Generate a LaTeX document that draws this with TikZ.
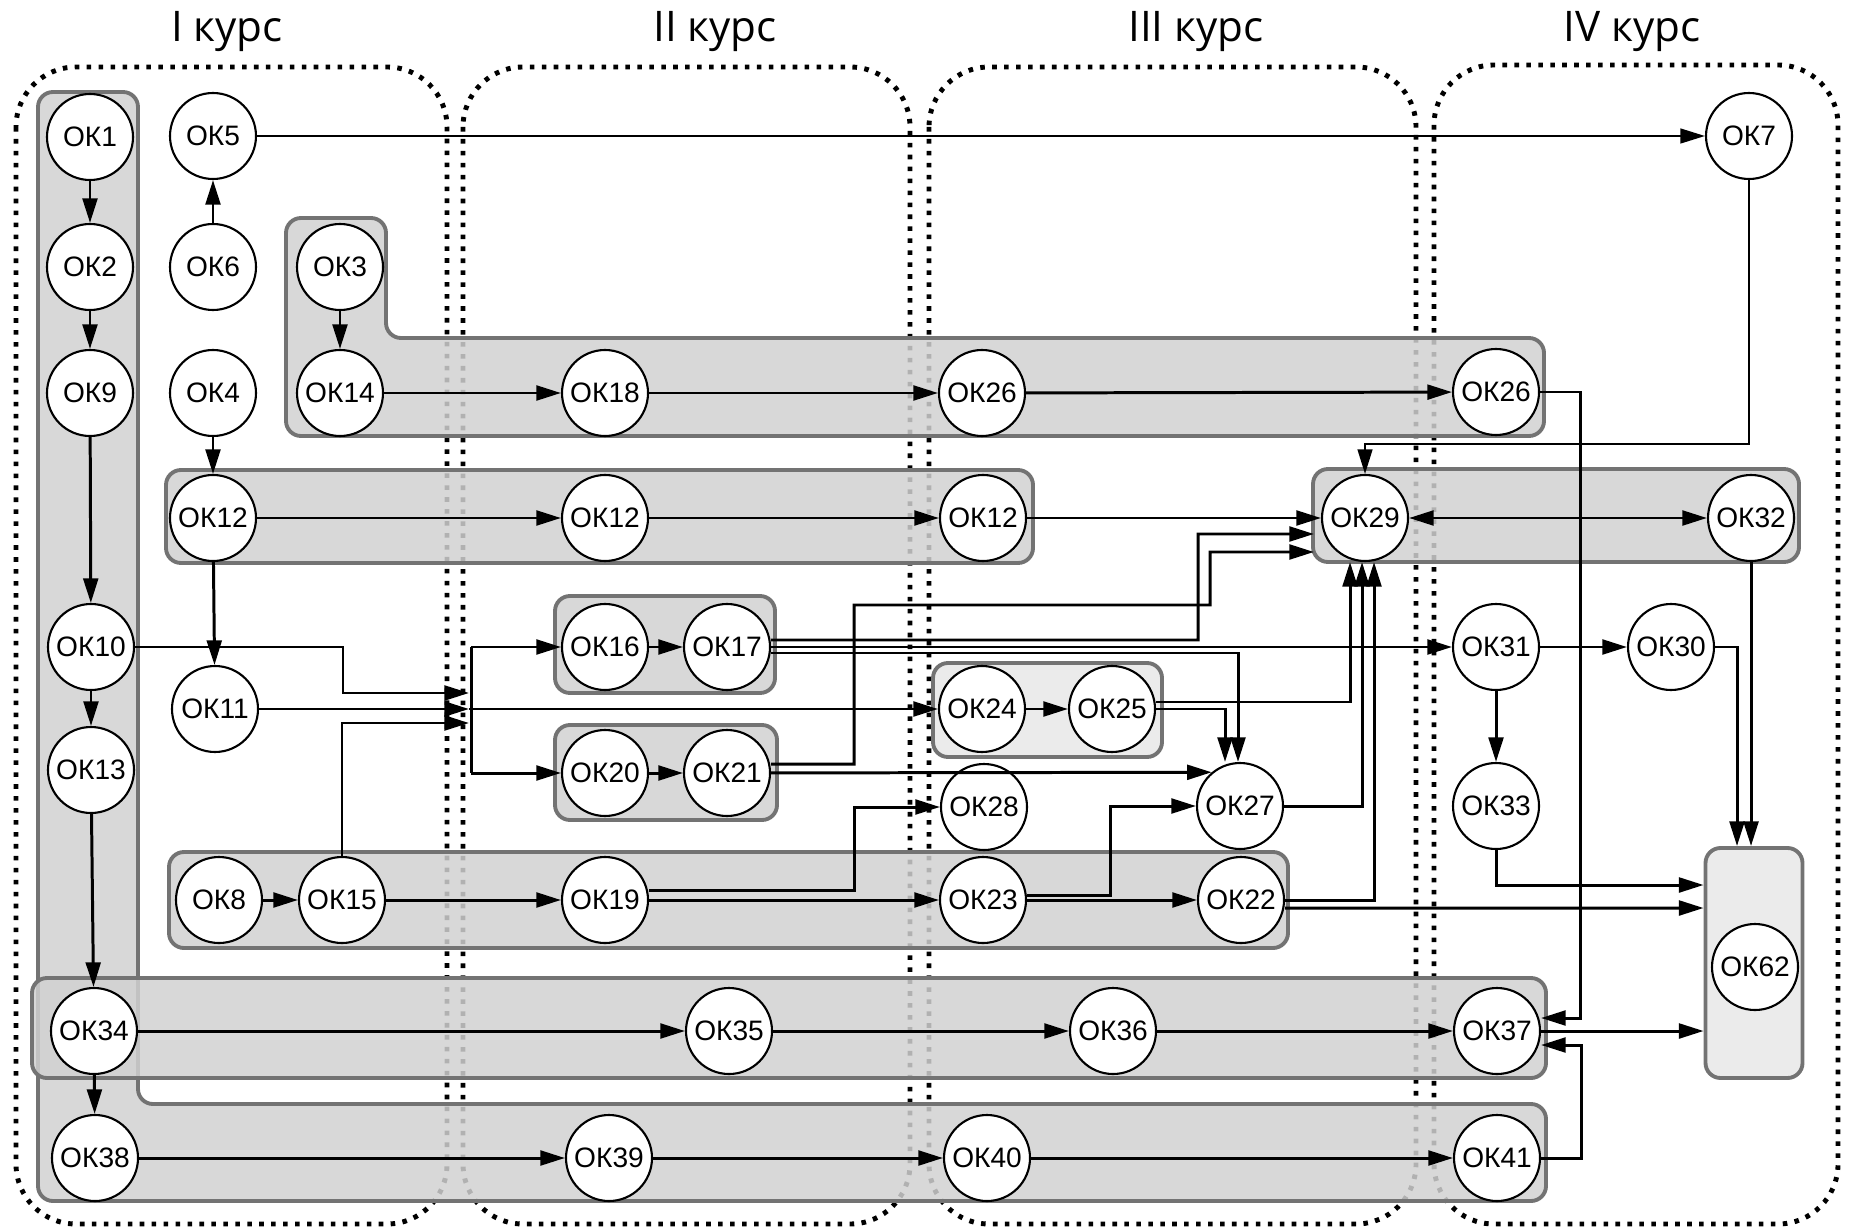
\documentclass[tikz,border=0pt]{standalone}
\usepackage{fontspec}
\setsansfont{Liberation Sans}
\newfontfamily\kursfont{Open Sans}
\usetikzlibrary{arrows.meta,calc}

\tikzset{
  ok/.style={circle,draw,line width=0.6pt,fill=white,minimum size=8.6mm,inner sep=0pt,
    font=\sffamily\fontsize{8}{9}\selectfont},
  link/.style={->,line width=0.85pt},
  fine/.style={->,line width=0.6pt},
  grp/.style={draw=black!55,line width=1.1pt,fill=black!18,fill opacity=0.85,rounded corners=1.5mm},
  grplight/.style={grp,fill=black!9},
  kurs/.style={line width=1.4pt,dash pattern=on 1.3pt off 2.1pt,rounded corners=6mm},
  kurstitle/.style={anchor=base,font=\kursfont\fontsize{12}{14}\selectfont}
}

\begin{document}
\begin{tikzpicture}[x=0.1mm,y=-0.1mm,>={Triangle[length=7pt,width=4.2pt]}]
\useasboundingbox (0,0) rectangle (1855,1229);

\draw[kurs] (16,67) rectangle (447,1224);
\draw[kurs] (463,67) rectangle (910,1224);
\draw[kurs] (929,67) rectangle (1416,1224);
\draw[kurs] (1434,65) rectangle (1838,1224);

\node[kurstitle] (k1) at (227,42) {I курс};
\node[kurstitle] (k2) at (715,42) {II курс};
\node[kurstitle] (k3) at (1196,42) {III курс};
\node[kurstitle] (k4) at (1632,42) {IV курс};

\draw[grp] (38,92) -- (138,92) -- (138,1104) -- (1546,1104) -- (1546,1201) -- (38,1201) -- cycle;
\draw[grp] (286,218) -- (386,218) -- (386,338) -- (1544,338) -- (1544,436) -- (286,436) -- cycle;
\draw[grp] (166,470) rectangle (1033,563);
\draw[grp] (1313,469) rectangle (1799,562);
\draw[grp] (555,596) rectangle (775,693);
\draw[grp] (555,725) rectangle (777,820);
\draw[grplight] (933,663) rectangle (1162,757);
\draw[grp] (169,852) rectangle (1288,948);
\draw[grp] (32,978) rectangle (1546,1078);
\node[grplight,minimum width=9.7mm,minimum height=23mm,inner sep=0pt] (box62) at (1754,963) {};

\node[ok] (ok1) at (90,137) {ОК1};
\node[ok] (ok2) at (90,267) {ОК2};
\node[ok] (ok9) at (90,393) {ОК9};
\node[ok] (ok10) at (91,647) {ОК10};
\node[ok] (ok13) at (91,770) {ОК13};
\node[ok] (ok34) at (94,1031) {ОК34};
\node[ok] (ok38) at (95,1158) {ОК38};
\node[ok] (ok5) at (213,136) {ОК5};
\node[ok] (ok6) at (213,267) {ОК6};
\node[ok] (ok4) at (213,393) {ОК4};
\node[ok] (ok12a) at (213,518) {ОК12};
\node[ok] (ok11) at (215,709) {ОК11};
\node[ok] (ok3) at (340,267) {ОК3};
\node[ok] (ok14) at (340,393) {ОК14};
\node[ok] (ok8) at (219,900) {ОК8};
\node[ok] (ok15) at (342,900) {ОК15};
\node[ok] (ok18) at (605,393) {ОК18};
\node[ok] (ok12b) at (605,518) {ОК12};
\node[ok] (ok16) at (605,647) {ОК16};
\node[ok] (ok17) at (727,647) {ОК17};
\node[ok] (ok20) at (605,773) {ОК20};
\node[ok] (ok21) at (727,773) {ОК21};
\node[ok] (ok19) at (605,900) {ОК19};
\node[ok] (ok35) at (729,1031) {ОК35};
\node[ok] (ok39) at (609,1158) {ОК39};
\node[ok] (ok26a) at (982,393) {ОК26};
\node[ok] (ok12c) at (983,518) {ОК12};
\node[ok] (ok24) at (982,709) {ОК24};
\node[ok] (ok25) at (1112,709) {ОК25};
\node[ok] (ok28) at (984,807) {ОК28};
\node[ok] (ok23) at (983,900) {ОК23};
\node[ok] (ok36) at (1113,1031) {ОК36};
\node[ok] (ok40) at (987,1158) {ОК40};
\node[ok] (ok27) at (1240,806) {ОК27};
\node[ok] (ok22) at (1241,900) {ОК22};
\node[ok] (ok29) at (1365,518) {ОК29};
\node[ok] (ok26b) at (1496,392) {ОК26};
\node[ok] (ok31) at (1496,647) {ОК31};
\node[ok] (ok33) at (1496,806) {ОК33};
\node[ok] (ok37) at (1497,1031) {ОК37};
\node[ok] (ok41) at (1497,1158) {ОК41};
\node[ok] (ok7) at (1749,136) {ОК7};
\node[ok] (ok32) at (1751,518) {ОК32};
\node[ok] (ok30) at (1671,647) {ОК30};
\node[ok] (ok62) at (1755,967) {ОК62};

\draw[link] (ok1) -- (ok2);
\draw[link] (ok2) -- (ok9);
\draw[link] (ok9) -- (ok10);
\draw[link] (ok10) -- (ok13);
\draw[link] (ok13) -- (ok34);
\draw[link] (ok34) -- (ok38);
\draw[link] (ok6) -- (ok5);
\draw[link] (ok3) -- (ok14);
\draw[link] (ok4) -- (ok12a);
\draw[link] (ok12a) -- (ok11);
\draw[fine] (ok5) -- (ok7);
\draw[fine] (ok7) |- ([yshift=3mm]ok29.north) -- (ok29);

\draw[link] (ok14) -- (ok18);
\draw[link] (ok18) -- (ok26a);
\draw[link] (ok26a) -- (ok26b);
\draw[link] (ok12a) -- (ok12b);
\draw[link] (ok12b) -- (ok12c);
\draw[link] (ok12c) -- (ok29);
\draw[<->,line width=0.85pt] (ok29) -- (ok32);
\draw[link] (ok8) -- (ok15);
\draw[link] (ok15) -- (ok19);
\draw[link] (ok19) -- (ok23);
\draw[link] (ok23) -- (ok22);
\draw[link] (ok34) -- (ok35);
\draw[link] (ok35) -- (ok36);
\draw[link] (ok36) -- (ok37);
\draw[link] (ok38) -- (ok39);
\draw[link] (ok39) -- (ok40);
\draw[link] (ok40) -- (ok41);
\draw[link] (ok16) -- (ok17);
\draw[link] (ok20) -- (ok21);
\draw[link] (ok24) -- (ok25);
\draw[link] (ok31) -- (ok30);
\draw[link] (ok31) -- (ok33);

\coordinate (bus1) at (471,647);
\coordinate (bus2) at (471,773);
\coordinate (in10) at (469,693);
\coordinate (in11) at (469,709);
\coordinate (in15) at (469,723);
\draw[line width=0.85pt] (bus1) -- (bus2);
\draw[link] (bus1) -- (ok16);
\draw[link] (bus2) -- (ok20);
\draw[link] (ok10) -| (343,693) -- (in10);
\draw[link] (ok11) -- (in11);
\draw[link] (ok15) |- (in15);
\draw[link] (in11) -- (ok24);

\draw[link] ([yshift=0.7mm]ok17.east) -- (1198,640) -- (1198,534) -- ($(ok29.west)+(-7,16)$);
\draw[link] (ok17) -- (ok31);
\draw[link] ([yshift=-0.6mm]ok17.east) -| ([xshift=-0.2mm]ok27.north);
\draw[link] ([yshift=0.9mm]ok21.east) -- (854,764) -- (854,605) -- (1210,605) -- (1210,552) -- ($(ok29.west)+(-7,34)$);
\draw[link] (ok21) -- (ok27.130);
\draw[link] ([yshift=0.7mm]ok25.east) -| ([xshift=-1.5mm]ok29.south);
\draw[link] (ok25) -| ([xshift=-1.5mm]ok27.north);
\draw[link] (ok27) -| ([xshift=-0.3mm]ok29.south);
\draw[link] (ok22) -| ([xshift=0.9mm]ok29.south);
\draw[link] ([yshift=1mm]ok19.east) -| (854,807) -- (ok28);
\draw[link] ([yshift=0.5mm]ok23.east) -| (1110,806) -- (ok27);

\draw[link] (ok26b.east) -- ++(4mm,0) |- ([yshift=1.3mm]ok37.east);
\draw[link] (ok41.east) -- ++(4mm,0) |- ([yshift=-1.4mm]ok37.east);
\draw[link] (ok33) |- ([yshift=7.8mm]box62.west);
\draw[link] ([yshift=-0.8mm]ok22.east) -- ([yshift=5.5mm]box62.west);
\draw[link] (ok37) -- (ok37 -| box62.west);
\draw[link] (ok32) -- (ok32 |- box62.north);
\draw[link] (ok30) -| ([xshift=-1.7mm]box62.north);
\end{tikzpicture}
\end{document}
